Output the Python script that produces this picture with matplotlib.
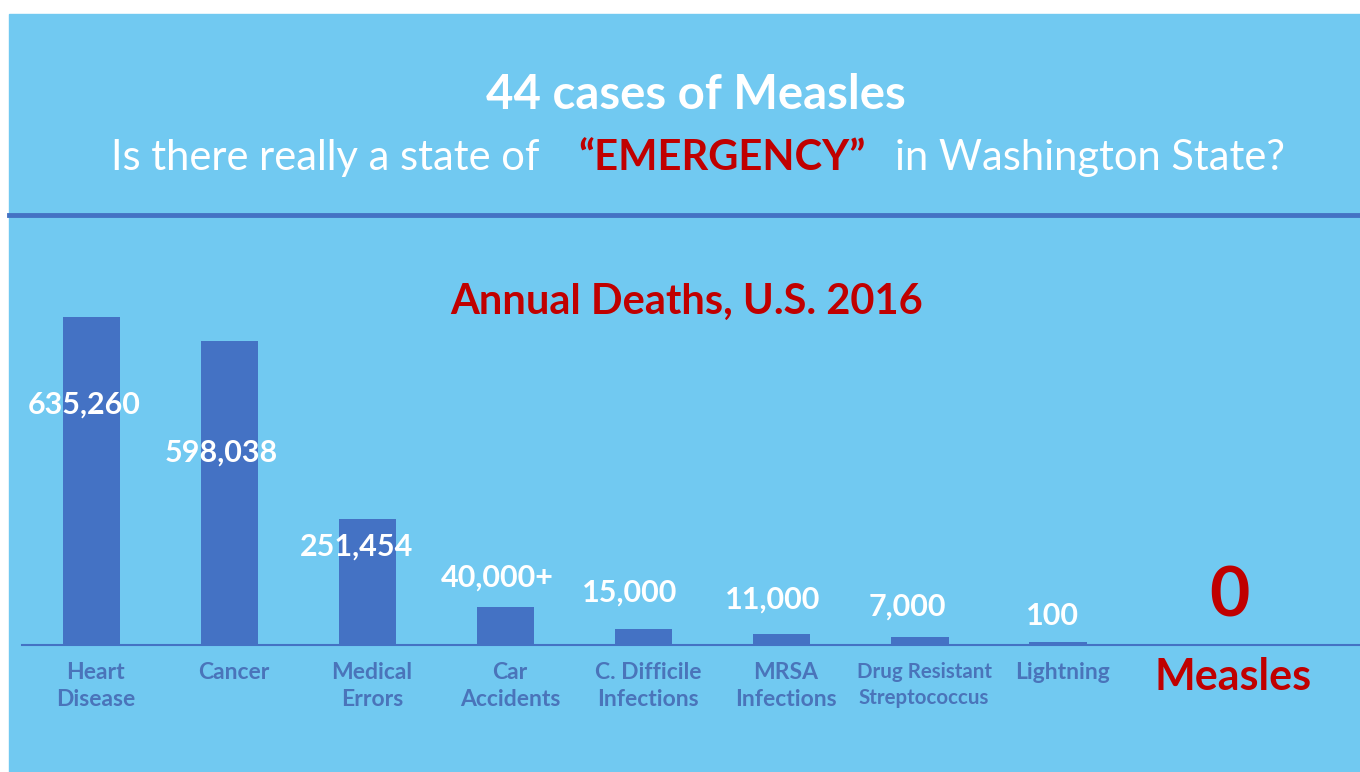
import matplotlib.pyplot as plt
from matplotlib.patches import Rectangle
import numpy as np

plt.rcParams['font.family'] = ['Lato', 'DejaVu Sans']

# data
categories = ["Heart\nDisease", "Cancer", "Medical\nErrors", "Car\nAccidents",
              "C. Difficile\nInfections", "MRSA\nInfections",
              "Drug Resistant\nStreptococcus", "Lightning"]
value_labels = ["635,260", "598,038", "251,454", "40,000+", "15,000",
                "11,000", "7,000", "100"]
# bar heights as drawn, in thousands (small causes are not to scale)
bar_heights_k = [635, 588, 244, 74, 31, 21, 15.5, 6]
measles_label = "Measles"
measles_value = "0"

BG = "#71C9F1"
BAR = "#4472C4"
TICK = "#4A74BA"
RED = "#C00000"

W, H = 1360, 772
fig = plt.figure(figsize=(13.6, 7.72), dpi=100, facecolor="white")

# slide background and divider line
fig.patches.append(Rectangle((9 / W, 0), 1 - 9 / W, 1 - 14 / H,
                             transform=fig.transFigure, color=BG, zorder=-5))
fig.add_artist(plt.Line2D([9 / W, 1], [1 - 215 / H] * 2, transform=fig.transFigure,
                          color=BAR, lw=3.5))

# titles
fig.text(696 / W, 1 - 95 / H, "44 cases of Measles", color="white",
         fontsize=34, fontweight="bold", ha="center", va="center")
sub_y = 1 - 158 / H
fig.text(111 / W, sub_y, "Is there really a state of", color="white",
         fontsize=30, ha="left", va="center")
fig.text(578 / W, sub_y, "\u201cEMERGENCY\u201d", color=RED,
         fontsize=30, fontweight="bold", ha="left", va="center")
fig.text(895 / W, sub_y, "in Washington State?", color="white",
         fontsize=30, ha="left", va="center")

# chart
base = 645
top = 250
ax = fig.add_axes([22 / W, 1 - base / H, 1 - 22 / W, (base - top) / H])
ax.set_zorder(2)
ax.set_facecolor("none")
unit = 138.07
x = np.arange(len(categories))
ax.set_xlim((22 - 91.5) / unit, (1360 - 91.5) / unit)
ax.set_ylim(0, bar_heights_k[0] * (base - top) / (base - 317))

ax.bar(x, bar_heights_k, width=0.415, color=BAR, zorder=2)

for s in ["top", "left", "right"]:
    ax.spines[s].set_visible(False)
ax.spines["bottom"].set_color(BAR)
ax.spines["bottom"].set_linewidth(1.5)
ax.set_yticks([])
ax.set_xticks(x + 0.03, categories, color=TICK, fontsize=16.5, fontweight="bold",
              linespacing=1.4)
ax.tick_params(axis="x", length=0, pad=12)
ax.get_xticklabels()[6].set_fontsize(14.8)

# value labels: offsets in points (dx, dy) from bar top
offsets = [(-5, -63), (-6, -80), (-8, -20), (-6, 21), (-10, 26.5), (-6.5, 25), (-9, 22), (-4, 19)]
for xi, h, lab, (dx, dy) in zip(x, bar_heights_k, value_labels, offsets):
    ax.annotate(lab, (xi, h), xytext=(dx, dy), textcoords="offset points",
                ha="center", va="center", color="white", fontsize=22,
                fontweight="bold", zorder=3)

# measles, drawn with no bar
mx = len(categories) + 0.27
ax.annotate(measles_value, (mx - 0.03, 0), xytext=(0, 34.5), textcoords="offset points",
            ha="center", va="center", color=RED, fontsize=50, fontweight="bold")
ax.annotate(measles_label, (mx, 0), xytext=(0, -23), textcoords="offset points",
            ha="center", va="center", color=RED, fontsize=31, fontweight="bold",
            annotation_clip=False)

# section title
fig.text(687 / W, 1 - 302 / H, "Annual Deaths, U.S. 2016", color=RED,
         fontsize=30, fontweight="bold", ha="center", va="center")

fig.savefig("out.png", dpi=100, facecolor="white")
